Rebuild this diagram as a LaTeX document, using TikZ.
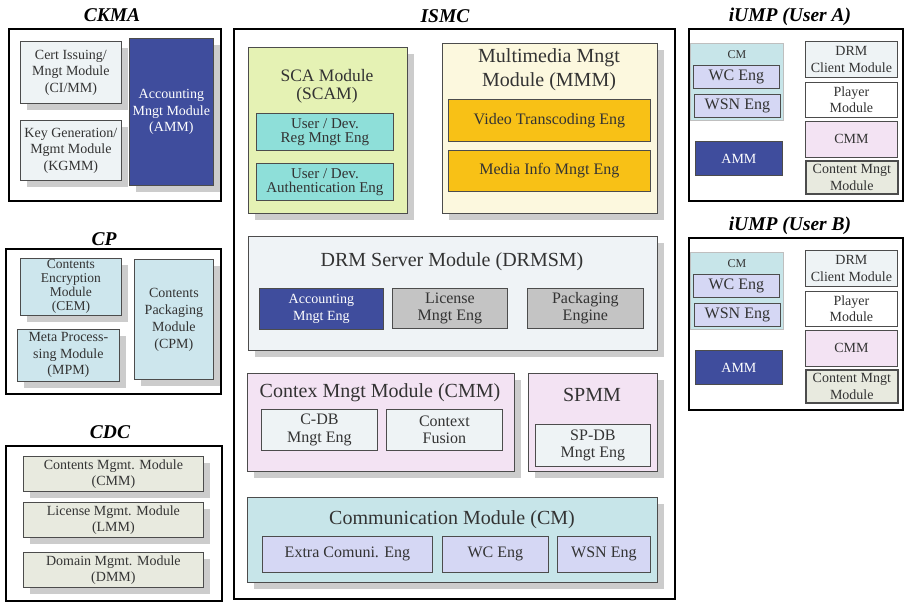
\documentclass[tikz,border=0pt]{standalone}
\usepackage{fontspec}
\setmainfont{Liberation Serif}
\usetikzlibrary{shadows}

\definecolor{ammblue}{RGB}{63,77,157}
\definecolor{paleblue}{RGB}{238,243,245}
\definecolor{cpblue}{RGB}{205,230,237}
\definecolor{cdcbeige}{RGB}{232,234,223}
\definecolor{scagreen}{RGB}{229,242,180}
\definecolor{engteal}{RGB}{142,223,217}
\definecolor{mmmcream}{RGB}{252,248,222}
\definecolor{engorange}{RGB}{248,193,22}
\definecolor{drmgray}{RGB}{239,243,246}
\definecolor{enggray}{RGB}{196,196,196}
\definecolor{ctxpink}{RGB}{243,227,243}
\definecolor{cmteal}{RGB}{199,229,233}
\definecolor{englav}{RGB}{213,215,244}

\tikzset{
  group/.style={draw=black, line width=2.4pt, anchor=north west, inner sep=0pt},
  grouptitle/.style={font=\fontsize{19.5}{21}\selectfont\bfseries\itshape},
  mod/.style={draw=black!70, line width=0.8pt, anchor=north west, align=center, inner sep=1pt, text=black!80},
  lbl/.style={align=center, text=black!80, inner sep=0pt},
  shad/.style={drop shadow={shadow xshift=7pt, shadow yshift=-7pt, fill=black!20, opacity=1}},
  wh/.style 2 args={minimum width=#1, minimum height=#2},
  txs/.style={font=\fontsize{14}{16.5}\selectfont},
  txm/.style={font=\fontsize{15}{14}\selectfont},
  txe/.style={font=\fontsize{16}{17.5}\selectfont},
  txb/.style={font=\fontsize{20}{24}\selectfont},
}

\begin{document}
\begin{tikzpicture}[x=1pt, y=-1pt]
\fill[white] (0,0) rectangle (905,602);
\useasboundingbox (0,0) rectangle (905,602);

% CKMA
\node[group, wh={212}{172}] (ckma) at (8,28) {};
\node[grouptitle] (ckmaT) at (112,15) {CKMA};
\node[mod, shad, txs, fill=paleblue, wh={101}{62}] (cimm) at (20,41) {Cert Issuing/\\Mngt Module\\(CI/MM)};
\node[mod, shad, txs, fill=paleblue, wh={101}{60}] (kgmm) at (20,120) {Key Generation/\\Mgmt Module\\(KGMM)};
\node[mod, shad, txs, fill=ammblue, text=white, wh={84}{147}] (amm) at (129,38) {Accounting\\Mngt Module\\(AMM)};

% CP
\node[group, wh={215}{145}] (cp) at (5,248) {};
\node[grouptitle] (cpT) at (104,239) {CP};
\node[mod, shad, fill=cpblue, font=\fontsize{13.5}{14}\selectfont, wh={101}{57}] (cem) at (20,258) {Contents\\Encryption\\Module\\(CEM)};
\node[mod, shad, txs, fill=cpblue, wh={102}{52}] (mpm) at (17,329) {Meta Process-\\sing Module\\(MPM)};
\node[mod, shad, fill=cpblue, font=\fontsize{14}{17}\selectfont, wh={79}{120}] (cpm) at (134,259) {Contents\\Packaging\\Module\\(CPM)};

% CDC
\node[group, wh={216}{155}] (cdc) at (5,445) {};
\node[grouptitle] (cdcT) at (110,432) {CDC};
\node[mod, shad, txs, fill=cdcbeige, wh={180}{35}] (cmmc) at (23,456) {Contents Mgmt. Module\\(CMM)};
\node[mod, shad, txs, fill=cdcbeige, wh={180}{35}] (lmm) at (23,502) {License Mgmt. Module\\(LMM)};
\node[mod, shad, txs, fill=cdcbeige, wh={180}{35}] (dmm) at (23,552) {Domain Mgmt. Module\\(DMM)};

% ISMC
\node[group, line width=2pt, wh={441}{570}] (ismc) at (233,28) {};
\node[grouptitle] (ismcT) at (445,16) {ISMC};

\node[mod, shad, fill=scagreen, wh={159}{166}] (scam) at (248,47) {};
\node[lbl, font=\fontsize{17.5}{18}\selectfont] (scamT) at (327,86) {SCA Module\\(SCAM)};
\node[mod, txm, fill=engteal, wh={137}{37}] (ureg) at (256,113) {User / Dev.\\Reg Mngt Eng};
\node[mod, txm, fill=engteal, wh={137}{37}] (uauth) at (256,163) {User / Dev.\\Authentication Eng};

\node[mod, shad, fill=mmmcream, wh={215}{170}] (mmm) at (442,43) {};
\node[lbl, txb] (mmmT) at (549,70) {Multimedia Mngt\\Module (MMM)};
\node[mod, txe, fill=engorange, wh={202}{42}] (vte) at (448,99) {Video Transcoding Eng};
\node[mod, txe, fill=engorange, wh={202}{41}] (mie) at (448,150) {Media Info Mngt Eng};

\node[mod, shad, fill=drmgray, wh={409}{114}] (drmsm) at (248,236) {};
\node[lbl, txb] (drmsmT) at (452,262) {DRM Server Module (DRMSM)};
\node[mod, txs, fill=ammblue, text=white, wh={124}{41}] (ame) at (259,288) {Accounting\\Mngt Eng};
\node[mod, txe, fill=enggray, wh={115}{40}] (lme) at (392,288) {License\\Mngt Eng};
\node[mod, txe, fill=enggray, wh={116}{40}] (pke) at (527,288) {Packaging\\Engine};

\node[mod, shad, fill=ctxpink, wh={267}{98}] (cxmm) at (247,373) {};
\node[lbl, txb] (cxmmT) at (380,393) {Contex Mngt Module (CMM)};
\node[mod, txe, fill=paleblue, wh={116}{41}] (cdb) at (261,409) {C-DB\\Mngt Eng};
\node[mod, txe, fill=paleblue, wh={116}{41}] (cfu) at (386,409) {Context\\Fusion};

\node[mod, shad, fill=ctxpink, wh={129}{98}] (spmm) at (528,373) {};
\node[lbl, txb] (spmmT) at (592,395) {SPMM};
\node[mod, txe, fill=paleblue, wh={115}{42}] (spdb) at (535,424) {SP-DB\\Mngt Eng};

\node[mod, shad, fill=cmteal, wh={410}{85}] (cm) at (247,497) {};
\node[lbl, txb] (cmT) at (452,520) {Communication Module (CM)};
\node[mod, txe, fill=englav, wh={170}{36}] (ece) at (262,536) {Extra Comuni. Eng};
\node[mod, txe, fill=englav, wh={106}{36}] (wce) at (442,536) {WC Eng};
\node[mod, txe, fill=englav, wh={93}{36}] (wsne) at (557,536) {WSN Eng};

% iUMP, one per user
\foreach \usr/\dy in {A/0,B/209}{
  \begin{scope}[yshift=-\dy pt]
    \node[group, wh={214}{172}] (iump\usr) at (688,28) {};
    \node[grouptitle] (title\usr) at (790,17) {iUMP (User \usr)};
    \node[mod, draw=black!25, fill=cmteal, wh={93}{77}] (cm\usr) at (690,43) {};
    \node[lbl, font=\fontsize{12}{13}\selectfont] (cmlbl\usr) at (737,55) {CM};
    \node[mod, txe, fill=englav, wh={86}{23}] (wc\usr) at (693,65) {WC Eng};
    \node[mod, txe, fill=englav, wh={86}{23}] (wsn\usr) at (694,94) {WSN Eng};
    \node[mod, txs, fill=ammblue, text=white, wh={87}{34}] (amm\usr) at (695,141) {AMM};
    \node[mod, txs, fill=paleblue, wh={92}{36}] (drm\usr) at (805,41) {DRM\\Client Module};
    \node[mod, txs, fill=white, wh={92}{35}] (pl\usr) at (805,82) {Player\\Module};
    \node[mod, txs, fill=ctxpink, wh={92}{36}] (cmm\usr) at (805,121) {CMM};
    \node[mod, txs, fill=cdcbeige, line width=1.6pt, wh={92}{33}] (cnt\usr) at (805,160) {Content Mngt\\Module};
  \end{scope}
}
\end{tikzpicture}
\end{document}
